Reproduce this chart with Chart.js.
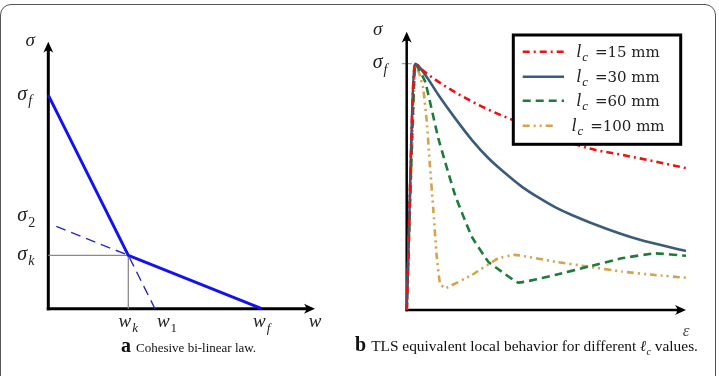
<!DOCTYPE html>
<html><head><meta charset="utf-8">
<script src="https://cdn.jsdelivr.net/npm/chart.js@4/dist/chart.umd.min.js"></script>
<style>
html,body{margin:0;padding:0;background:#fff;}
#wrap{position:relative;width:719px;height:376px;overflow:hidden;background:#fff;}
#frame{position:absolute;left:0px;top:4px;width:716px;height:430px;border:1.5px solid #555;border-radius:11px;box-sizing:border-box;}
#ca{position:absolute;left:0;top:0;}
#cb{position:absolute;left:360px;top:0;}
.cap{position:absolute;font-family:"Liberation Serif",serif;white-space:nowrap;color:#111;}
.cap b{font-size:20px;margin-right:5px;}
.cap i{font-style:italic;}
.cap sub{font-size:10px;font-style:italic;}
</style></head>
<body>
<div id="wrap">
<div id="frame"></div>
<canvas id="ca" width="360" height="376"></canvas>
<canvas id="cb" width="359" height="376"></canvas>
<div class="cap" style="left:121px;top:334px;font-size:13px"><b>a</b>Cohesive bi-linear law.</div>
<div class="cap" style="left:355px;top:333px;font-size:15.4px"><b>b</b>TLS equivalent local behavior for different <i>ℓ</i><sub>c</sub> values.</div>
</div>
<script>
// ---------- Panel a : cohesive bi-linear law ----------
const lawW = [0, 3, 8];
const lawS = [8, 2, 0];
const extW = [0.3, 3, 4];
const extS = [3.08, 2, 0];
const guideW = [0, 3, 3];
const guideS = [2, 2, 0];
const yTickValsA = [8, 3.45, 2];
const yTickSubsA = ['f', '2', 'k'];
const xTickValsA = [3, 4.45, 8];
const xTickSubsA = ['k', '1', 'f'];

// ---------- Panel b : TLS equivalent local behaviour ----------
const seriesLabels = ['15', '30', '60', '100'];
const eps15 = [0, 0.3, 0.54, 1.49, 2.33, 2.80, 3.94, 5.01, 6.50, 7.70, 8.89, 10];
const sig15 = [0, 1.0, 0.976, 0.901, 0.847, 0.820, 0.765, 0.718, 0.657, 0.630, 0.603, 0.576];
const eps30 = [0, 0.3, 0.66, 1.13, 1.73, 2.33, 2.92, 3.52, 4.12, 4.71, 5.31, 5.91, 7.10, 8.29, 10];
const sig30 = [0, 1.0, 0.955, 0.874, 0.779, 0.691, 0.617, 0.556, 0.501, 0.457, 0.418, 0.386, 0.332, 0.287, 0.240];
const eps60 = [0, 0.3, 0.66, 1.13, 1.73, 2.33, 2.92, 3.40, 4.0, 5.31, 6.5, 7.70, 8.89, 10];
const sig60 = [0, 1.0, 0.928, 0.698, 0.467, 0.298, 0.196, 0.156, 0.111, 0.142, 0.176, 0.210, 0.230, 0.220];
const eps100 = [0, 0.3, 0.45, 0.59, 0.72, 0.83, 0.95, 1.07, 1.19, 1.37, 2.33, 3.28, 3.88, 5.31, 6.5, 7.70, 8.89, 10];
const sig100 = [0, 1.0, 0.96, 0.901, 0.765, 0.589, 0.413, 0.224, 0.109, 0.088, 0.142, 0.210, 0.224, 0.196, 0.176, 0.156, 0.142, 0.131];

const pts = (xs, ys) => xs.map((x, i) => ({x, y: ys[i]}));
const FONT = '"Liberation Serif", "DejaVu Serif", serif';
const RFONT = '"DejaVu Serif", serif';

function mathLabel(ctx, base, sub, subItalic, x, y, align, size) {
  const f1 = 'italic ' + size + 'px ' + FONT;
  const f2 = (subItalic ? 'italic ' : '') + Math.round(size * 0.7) + 'px ' + FONT;
  ctx.font = f1; const w1 = ctx.measureText(base).width;
  ctx.font = f2; const w2 = sub ? ctx.measureText(sub).width : 0;
  const tot = w1 + w2 + (sub ? 1 : 0);
  const x0 = align === 'right' ? x - tot : align === 'center' ? x - tot / 2 : x;
  ctx.textAlign = 'left'; ctx.textBaseline = 'alphabetic'; ctx.fillStyle = '#222';
  const by = y + size * 0.22;
  ctx.font = f1; ctx.fillText(base, x0, by);
  if (sub) { ctx.font = f2; ctx.fillText(sub, x0 + w1 + 1, by + size * 0.28); }
  return tot;
}
function arrowLine(ctx, x1, y1, x2, y2, lw) {
  const a = Math.atan2(y2 - y1, x2 - x1), L = 11, H = 5;
  ctx.save(); ctx.strokeStyle = '#000'; ctx.fillStyle = '#000'; ctx.lineWidth = lw; ctx.lineCap = 'butt';
  ctx.beginPath(); ctx.moveTo(x1, y1); ctx.lineTo(x2 - Math.cos(a) * 6, y2 - Math.sin(a) * 6); ctx.stroke();
  ctx.translate(x2, y2); ctx.rotate(a);
  ctx.beginPath(); ctx.moveTo(0, 0); ctx.lineTo(-L, -H); ctx.quadraticCurveTo(-L * 0.6, 0, -L, H); ctx.closePath(); ctx.fill();
  ctx.restore();
}

const axesA = {
  id: 'axesA',
  beforeDatasetsDraw(chart) {
    const {ctx, scales: {x, y}} = chart;
    const x0 = x.getPixelForValue(0), y0 = y.getPixelForValue(0);
    arrowLine(ctx, x0, y0 + 1.5, x0, y.getPixelForValue(y.max), 3);
    arrowLine(ctx, x0 - 1.5, y0, x.getPixelForValue(x.max), y0, 3);
  },
  afterDraw(chart) {
    const {ctx, scales: {x, y}} = chart;
    const x0 = x.getPixelForValue(0), y0 = y.getPixelForValue(0);
    mathLabel(ctx, 'σ', '', false, x0 - 18, y.getPixelForValue(y.max), 'center', 19);
    yTickValsA.forEach((v, i) => mathLabel(ctx, 'σ', yTickSubsA[i], yTickSubsA[i] !== '2', x0 - 31, y.getPixelForValue(v), 'left', 20));
    xTickValsA.forEach((v, i) => mathLabel(ctx, 'w', xTickSubsA[i], xTickSubsA[i] !== '1', x.getPixelForValue(v), y0 + 14, 'center', 19));
    mathLabel(ctx, 'w', '', false, x.getPixelForValue(x.max), y0 + 14, 'center', 19);
  }
};

new Chart(document.getElementById('ca'), {
  type: 'line',
  data: {datasets: [
    {data: pts(lawW, lawS), borderColor: '#1212ee', borderWidth: 3, clip: false},
    {data: pts(extW, extS), borderColor: '#2626c8', borderWidth: 1.4, borderDash: [10, 6], clip: false},
    {data: pts(guideW, guideS), borderColor: '#8a8a8a', borderWidth: 1.3, clip: false}
  ]},
  options: {
    responsive: false, animation: false, events: [],
    layout: {padding: {left: 48.3, right: 45, top: 41.7, bottom: 67.3}},
    elements: {point: {radius: 0}, line: {tension: 0, fill: false}},
    scales: {x: {type: 'linear', min: 0, max: 10, display: false}, y: {type: 'linear', min: 0, max: 10, display: false}},
    plugins: {legend: {display: false}, tooltip: {enabled: false}}
  },
  plugins: [axesA]
});

const axesB = {
  id: 'axesB',
  beforeDatasetsDraw(chart) {
    const {ctx, scales: {x, y}} = chart;
    const x0 = x.getPixelForValue(0), y0 = y.getPixelForValue(0);
    ctx.save(); ctx.strokeStyle = '#888'; ctx.lineWidth = 1;
    ctx.beginPath(); ctx.moveTo(x0 - 5, y.getPixelForValue(1)); ctx.lineTo(x0 + 5, y.getPixelForValue(1)); ctx.stroke(); ctx.restore();
    arrowLine(ctx, x0, y0 + 1.2, x0, y.getPixelForValue(y.max), 2.5);
    arrowLine(ctx, x0 - 1.2, y0, x.getPixelForValue(x.max), y0, 2.5);
  },
  afterDraw(chart) {
    const {ctx, scales: {x, y}} = chart;
    const x0 = x.getPixelForValue(0), y0 = y.getPixelForValue(0);
    mathLabel(ctx, 'σ', '', false, x0 - 29, y.getPixelForValue(y.max) - 1, 'center', 19);
    mathLabel(ctx, 'σ', 'f', true, x0 - 34, y.getPixelForValue(1), 'left', 20);
    ctx.save(); ctx.globalAlpha = 0.8;
    mathLabel(ctx, 'ε', '', false, x.getPixelForValue(x.max), y0 + 22, 'center', 17);
    ctx.restore();
    // legend
    const bx = 153.3, by = 35, bw = 167.4, bh = 109.3;
    ctx.save();
    ctx.fillStyle = '#fff'; ctx.fillRect(bx, by, bw, bh);
    ctx.strokeStyle = '#000'; ctx.lineWidth = 3; ctx.strokeRect(bx, by, bw, bh);
    const rows = [51.7, 76.7, 100.7, 125.7];
    chart.data.datasets.forEach((ds, i) => {
      const yy = rows[i];
      ctx.strokeStyle = ds.borderColor; ctx.lineWidth = ds.borderWidth; ctx.setLineDash(ds.borderDash || []);
      ctx.beginPath(); ctx.moveTo(162.7, yy); ctx.lineTo(i === 3 ? 196.7 : 204, yy); ctx.stroke();
      ctx.setLineDash([]);
      const size = 15, isz = 18;
      ctx.font = size + 'px ' + RFONT;
      const rest = '=' + seriesLabels[i] + ' mm';
      const wr = ctx.measureText(rest).width;
      ctx.font = 'italic ' + isz + 'px ' + FONT; const wl = ctx.measureText('l').width;
      ctx.font = 'italic ' + Math.round(isz * 0.72) + 'px ' + FONT; const wc = ctx.measureText('c').width;
      const gap = 7;
      const tot = wl + 1 + wc + gap + wr;
      let tx = 258 - tot / 2;
      ctx.fillStyle = '#222'; ctx.textBaseline = 'alphabetic'; ctx.textAlign = 'left';
      const base = yy + 5.5;
      ctx.font = 'italic ' + isz + 'px ' + FONT; ctx.fillText('l', tx, base);
      ctx.font = 'italic ' + Math.round(isz * 0.72) + 'px ' + FONT; ctx.fillText('c', tx + wl + 1, base + 4);
      ctx.font = size + 'px ' + RFONT; ctx.fillText(rest, tx + wl + 1 + wc + gap, base);
    });
    ctx.restore();
  }
};

new Chart(document.getElementById('cb'), {
  type: 'line',
  data: {datasets: [
    {label: 'lc =15 mm', data: pts(eps15, sig15), borderColor: '#ee1111', borderWidth: 2.6, borderDash: [7, 4, 2, 4], cubicInterpolationMode: 'monotone', clip: false},
    {label: 'lc =30 mm', data: pts(eps30, sig30), borderColor: '#3b5b7a', borderWidth: 2.6, cubicInterpolationMode: 'monotone', clip: false},
    {label: 'lc =60 mm', data: pts(eps60, sig60), borderColor: '#1e7b3a', borderWidth: 2.6, borderDash: [8, 5], tension: 0.1, clip: false},
    {label: 'lc =100 mm', data: pts(eps100, sig100), borderColor: '#d6a24c', borderWidth: 2.6, borderDash: [7, 4, 2, 4, 2, 4], tension: 0.1, clip: false}
  ]},
  options: {
    responsive: false, animation: false, events: [],
    layout: {padding: {left: 46.7, right: 33, top: 31.7, bottom: 66}},
    elements: {point: {radius: 0}, line: {fill: false}},
    scales: {x: {type: 'linear', min: 0, max: 10, display: false}, y: {type: 'linear', min: 0, max: 1.13, display: false}},
    plugins: {legend: {display: false}, tooltip: {enabled: false}}
  },
  plugins: [axesB]
});
</script>
</body></html>
